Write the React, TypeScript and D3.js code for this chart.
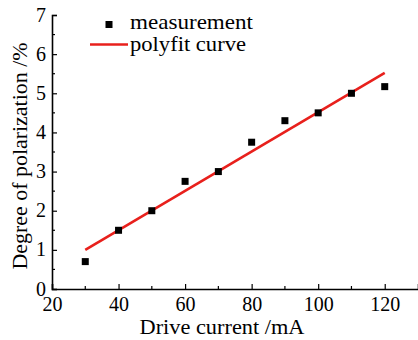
import { useEffect, useRef } from "react";
import * as d3 from "d3";

const currents = [30, 40, 50, 60, 70, 80, 90, 100, 110, 120];
const polarization = [0.7, 1.5, 2.0, 2.75, 3.0, 3.75, 4.3, 4.5, 5.0, 5.17];
const fitX = [30, 120];
const fitY = [1.0, 5.52];
const xTicks = [20, 40, 60, 80, 100, 120];
const yTicks = [0, 1, 2, 3, 4, 5, 6, 7];

export default function App() {
  const ref = useRef<SVGSVGElement>(null);

  useEffect(() => {
    const width = 418;
    const height = 340;
    const margin = { top: 15, right: 0, bottom: 51, left: 52 };
    const font = "Liberation Serif";
    const red = "#e8201c";

    const svg = d3.select(ref.current);
    svg.selectAll("*").remove();

    const x = d3.scaleLinear().domain([20, 130]).range([margin.left, width - margin.right]);
    const y = d3.scaleLinear().domain([0, 7]).range([height - margin.bottom, margin.top]);

    // fit line
    const line = d3.line<number>().x(d => x(d)).y((d, i) => y(fitY[i]));
    svg.append("path")
      .datum(fitX)
      .attr("fill", "none")
      .attr("stroke", red)
      .attr("stroke-width", 2.6)
      .attr("d", line);

    // measurement squares
    svg.append("g")
      .selectAll("rect")
      .data(currents)
      .join("rect")
      .attr("x", d => x(d) - 3.5)
      .attr("y", (d, i) => y(polarization[i]) - 3.5)
      .attr("width", 7)
      .attr("height", 7)
      .attr("fill", "#000");

    // axes, ticks pointing inward
    const xAxis = svg.append("g")
      .attr("transform", `translate(0,${y(0)})`)
      .call(d3.axisBottom(x).tickValues(xTicks).tickSize(-5).tickPadding(8).tickFormat(d3.format("d")));
    xAxis.append("g").selectAll("line")
      .data(d3.range(30, 130, 20))
      .join("line")
      .attr("x1", d => x(d)).attr("x2", d => x(d))
      .attr("y1", 0).attr("y2", -3)
      .attr("stroke", "#000").attr("stroke-width", 1.2);

    const yAxis = svg.append("g")
      .attr("transform", `translate(${x(20)},0)`)
      .call(d3.axisLeft(y).tickValues(yTicks).tickSize(-5).tickPadding(6).tickFormat(d3.format("d")));
    yAxis.append("g").selectAll("line")
      .data(d3.range(0.5, 7, 1))
      .join("line")
      .attr("y1", d => y(d)).attr("y2", d => y(d))
      .attr("x1", 0).attr("x2", 3)
      .attr("stroke", "#000").attr("stroke-width", 1.2);

    [xAxis, yAxis].forEach(g => {
      g.select(".domain").attr("stroke-width", 1.6).attr("stroke", "#000");
      g.selectAll(".tick line").attr("stroke-width", 1.2).attr("stroke", "#000");
      g.selectAll("text").attr("font-family", font).attr("font-size", 20).attr("fill", "#000");
    });
    yAxis.selectAll(".tick text").attr("dy", "0.3em");

    svg.append("text")
      .attr("x", 222)
      .attr("y", 334)
      .attr("text-anchor", "middle")
      .attr("font-family", font)
      .attr("font-size", 22)
      .attr("textLength", 165)
      .attr("lengthAdjust", "spacingAndGlyphs")
      .text("Drive current /mA");

    svg.append("text")
      .attr("transform", `translate(27,156) rotate(-90)`)
      .attr("text-anchor", "middle")
      .attr("font-family", font)
      .attr("font-size", 22)
      .attr("textLength", 227)
      .attr("lengthAdjust", "spacingAndGlyphs")
      .text("Degree of polarization /%");

    // legend
    const lg = svg.append("g").attr("font-family", font).attr("font-size", 21);
    lg.append("rect").attr("x", 105.5).attr("y", 21).attr("width", 7).attr("height", 7).attr("fill", "#000");
    lg.append("text").attr("x", 130).attr("y", 29)
      .attr("textLength", 123).attr("lengthAdjust", "spacingAndGlyphs").text("measurement");
    lg.append("line").attr("x1", 90).attr("x2", 128).attr("y1", 44.5).attr("y2", 44.5)
      .attr("stroke", red).attr("stroke-width", 2.6);
    lg.append("text").attr("x", 130).attr("y", 51)
      .attr("textLength", 116).attr("lengthAdjust", "spacingAndGlyphs").text("polyfit curve");
  }, []);

  return (
    <svg
      ref={ref}
      width={418}
      height={340}
      style={{ position: "absolute", left: 0, top: 0, background: "#fff" }}
    />
  );
}
